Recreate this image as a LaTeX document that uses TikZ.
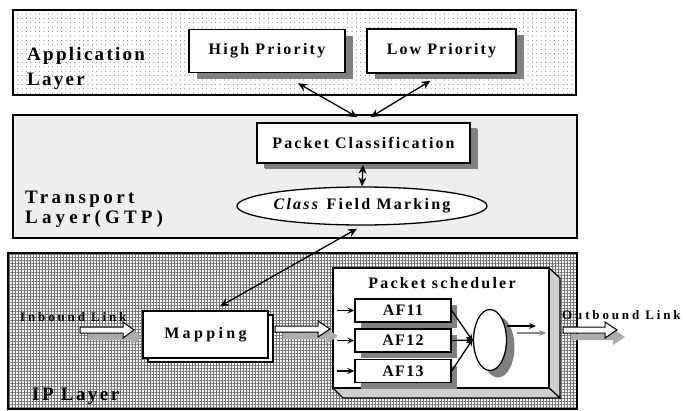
\documentclass[tikz,border=0pt]{standalone}
\usepackage{fontspec}
\setmainfont{Liberation Serif}
\usetikzlibrary{arrows.meta,patterns.meta,shapes.geometric,shadows,calc}
\newcommand\lsp[3]{{\fontsize{#1}{#1}\selectfont\bfseries\addfontfeature{LetterSpace=#2}#3}}
% block arrow: x0, x1 (head base), x2 (tip), y
\newcommand\blockarr[4]{%
  \fill[gray!65] (#1+8,#4+7-3) -- (#2+8,#4+7-3) -- (#2+8,#4+7-8) -- (#3+8,#4+7) -- (#2+8,#4+7+8) -- (#2+8,#4+7+3) -- (#1+8,#4+7+3) -- cycle;
  \filldraw[fill=white,line width=1pt] (#1,#4-3) -- (#2,#4-3) -- (#2,#4-8) -- (#3,#4) -- (#2,#4+8) -- (#2,#4+3) -- (#1,#4+3) -- cycle;
}
\begin{document}
\begin{tikzpicture}[x=1pt,y=-1pt,
  layerbox/.style={draw,line width=1.5pt},
  shbox/.style={draw,line width=1.5pt,fill=white,inner sep=0pt,
    drop shadow={shadow xshift=8pt,shadow yshift=-6pt,fill=black!50,opacity=1}},
  afbox/.style={draw,line width=1.3pt,fill=white,inner sep=0pt,minimum width=96pt,minimum height=23pt,
    drop shadow={shadow xshift=6pt,shadow yshift=-6pt,fill=black!50,opacity=1}},
  dbl/.style={{Stealth[length=9pt,width=8pt]}-{Stealth[length=9pt,width=8pt]},line width=1.3pt},
  sarr/.style={-{Stealth[length=7pt,width=6pt]},line width=1.3pt},
  lbl/.style={inner sep=0pt,anchor=base west}
]
\useasboundingbox (0,0) rectangle (686,410);

% ---------- Application layer
\fill[white] (13,10) rectangle (576,95);
\fill[pattern={Dots[radius=0.42pt,distance=4.4pt]},pattern color=black!80] (13,10) rectangle (576,95);
\draw[layerbox] (13,10) rectangle (576,95);
\node[lbl] (app1) at (27,60) {\lsp{19}{12}{Application}};
\node[lbl] (app2) at (27,85) {\lsp{19}{12}{Layer}};

\node[shbox,minimum width=156pt,minimum height=43pt] (hp) at (267,51) {\lsp{16}{14}{High Priority}};
\node[shbox,minimum width=149pt,minimum height=44pt] (lp) at (441.5,51) {\lsp{16}{13}{Low Priority}};

% ---------- Transport layer
\fill[gray!13] (13,115) rectangle (577,238);
\draw[layerbox] (13,115) rectangle (577,238);
\node[lbl] (tl1) at (25,203) {\lsp{19}{18}{Transport}};
\node[lbl] (tl2) at (25,223) {\lsp{19}{22}{Layer(GTP)}};

\node[shbox,minimum width=213pt,minimum height=40pt,
  drop shadow={shadow xshift=7pt,shadow yshift=-5pt,fill=black!50,opacity=1}] (pc) at (363.5,143) {\lsp{16}{13}{Packet Classification}};
\node[draw,ellipse,line width=1.3pt,fill=white,inner sep=0pt,minimum width=216pt,minimum height=38pt] (cfm) at (362,206)
  {\lsp{16}{14}{\textit{Class} Field Marking}};

% ---------- IP layer
\fill[gray!8] (8,253) rectangle (577,409);
\fill[pattern={Lines[angle=0,distance=3pt,line width=0.7pt]},pattern color=black!55] (8,253) rectangle (577,409);
\fill[pattern={Lines[angle=90,distance=3pt,line width=0.7pt]},pattern color=black!55] (8,253) rectangle (577,409);
\draw[layerbox] (8,253) rectangle (577,409);
\node[lbl] (ipl) at (32,400) {\lsp{19}{13}{IP Layer}};
\node[lbl] (inl) at (20,321) {\lsp{13}{22}{Inbound Link}};
\node[lbl] (outl) at (562,319) {\lsp{13}{22}{Outbound Link}};

% mapping (stacked box)
\draw[line width=1.3pt,fill=white] (148,315) rectangle (273,362);
\node[draw,line width=1.3pt,fill=white,inner sep=0pt,minimum width=125pt,minimum height=47pt] (map) at (205.5,334.5) {\lsp{16}{21}{Mapping}};

% scheduler 3D box
\filldraw[fill=gray!38,line width=1.2pt] (549,268) -- (560,278) -- (560,398) -- (549,388) -- cycle;
\filldraw[fill=gray!38,line width=1.2pt] (333,388) -- (549,388) -- (560,398) -- (343,398) -- cycle;
\node[draw,line width=1.2pt,fill=white,inner sep=0pt,minimum width=216pt,minimum height=120pt] (sched) at (441,328) {};
\node[lbl,anchor=base] (schedt) at (442,288) {\lsp{16}{14}{Packet scheduler}};

\node[afbox] (af1) at (403,310.5) {\lsp{16}{8}{AF11}};
\node[afbox] (af2) at (403,340.5) {\lsp{16}{8}{AF12}};
\node[afbox] (af3) at (403,371) {\lsp{16}{8}{AF13}};

\fill[black!50] (498,347) ellipse [x radius=16.5pt,y radius=30.5pt];
\node[draw,ellipse,line width=1.3pt,fill=white,inner sep=0pt,minimum width=33pt,minimum height=61pt] (q) at (490,340) {};

% block arrows
\blockarr{80}{123}{134}{330}
\blockarr{275}{318}{330}{329}
\blockarr{563}{605}{617}{330}

% connectors
\draw[dbl] ([xshift=-6pt,yshift=5pt]pc.north) -- ([xshift=31pt,yshift=-10pt]hp.south);
\draw[dbl] ([xshift=7pt,yshift=5pt]pc.north) -- ([xshift=-11pt,yshift=-7pt]lp.south);
\draw[dbl] ([xshift=-0.5pt,yshift=-1pt]pc.south) -- (cfm.north);
\draw[dbl] ([xshift=-5pt,yshift=-3pt]cfm.south) -- ([xshift=14.5pt,yshift=4pt]map.north);

\coordinate (a1) at (337,310.5);
\coordinate (a2) at (337,340.5);
\coordinate (a3) at (337,371);
\draw[sarr] (a1) -- (af1.west);
\draw[sarr] (a2) -- (af2.west);
\draw[sarr] (a3) -- (af3.west);
\draw[sarr] (af1.east) -- ([yshift=-1pt]q.west);
\draw[sarr] (af2.east) -- (q.west);
\draw[sarr] (af3.east) -- ([yshift=1pt]q.west);
\coordinate (o1) at (536,326);
\coordinate (o2) at (546,333);
\draw[sarr] ([yshift=14pt]q.east) -- (o1);
\draw[sarr,draw=black!45] (517,333) -- (o2);
\end{tikzpicture}
\end{document}
